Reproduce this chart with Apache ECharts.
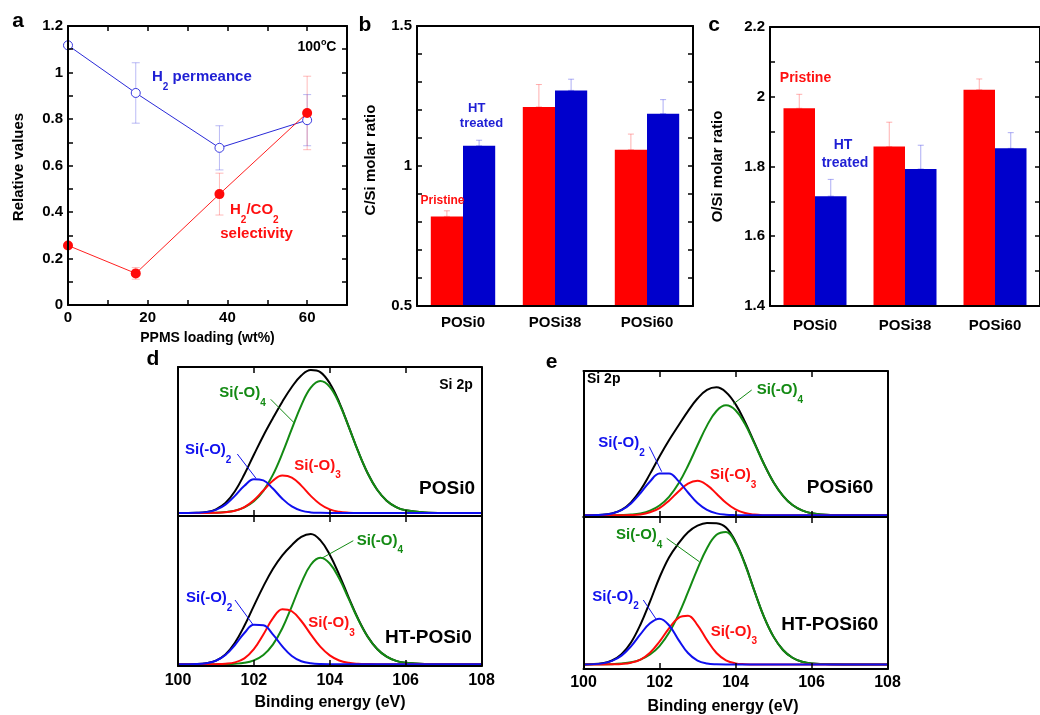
<!DOCTYPE html>
<html><head><meta charset="utf-8">
<script src="https://cdn.jsdelivr.net/npm/echarts@6/dist/echarts.min.js"></script>
<style>html,body{margin:0;padding:0;background:#fff}#c{width:1040px;height:715px}</style>
</head><body><div id="c"></div>
<script>
const FONT = '"Liberation Sans", Arial, Helvetica, sans-serif';
// ---------- panel a ----------
const LOADING = [0, 17, 38, 60];
const H2_PERM = [1.117, 0.912, 0.676, 0.795];
const H2_PERM_ERR = [0, 0.13, 0.095, 0.11];
const SELECTIVITY = [0.256, 0.136, 0.477, 0.826];
const SELECTIVITY_ERR = [0, 0.025, 0.09, 0.158];
const A_X_TICKS = [0, 20, 40, 60];
// ---------- panels b, c ----------
const SAMPLES = ['POSi0', 'POSi38', 'POSi60'];
const CSI_PRISTINE = [0.82, 1.211, 1.058];
const CSI_PRISTINE_ERR = [0.02, 0.08, 0.056];
const CSI_HT = [1.072, 1.27, 1.187];
const CSI_HT_ERR = [0.02, 0.04, 0.05];
const OSI_PRISTINE = [1.967, 1.857, 2.02];
const OSI_PRISTINE_ERR = [0.04, 0.07, 0.031];
const OSI_HT = [1.715, 1.793, 1.852];
const OSI_HT_ERR = [0.048, 0.068, 0.045];
// ---------- panels d, e (Si 2p spectra, arbitrary intensity) ----------
const ENERGY = [100, 100.5, 100.75, 101, 101.25, 101.5, 101.75, 102, 102.25, 102.5, 102.75, 103, 103.25, 103.5, 103.75, 104, 104.25, 104.5, 104.75, 105, 105.25, 105.5, 105.75, 106, 106.5, 107, 108];
const POSI0_ENV  = [2,2.2,2.7,4.5,8.7,16.6,28.0,41.1,53.9,65.6,76.7,86.6,94.3,98.0,96.6,89.1,76.3,60.0,43.3,28.7,17.6,10.3,6.0,3.8,2.3,2,2];
const POSI0_SIO4 = [2,2,2.1,2.2,2.7,3.6,5.8,9.9,16.9,27.6,42,58.4,74.3,86.1,90.6,86.7,75.5,59.8,43.2,28.7,17.6,10.3,6.0,3.8,2.3,2,2];
const POSI0_SIO3 = [2,2,2,2.1,2.5,3.5,6,10.6,17.1,23.6,27.1,25.8,20.4,13.5,7.9,4.4,2.8,2.2,2,2,2,2,2,2,2,2,2];
const POSI0_SIO2 = [2,2.2,2.6,4.1,7.6,13.5,20.3,24.6,23.9,18.4,11.6,6.4,3.6,2.4,2.1,2,2,2,2,2,2,2,2,2,2,2,2];
const HTPOSI0_ENV  = [1.2,1.35,1.9,3.6,7.7,15.5,26.8,40.1,53.1,64.7,73.8,80.6,86.1,88.0,83.9,74.2,60.8,45.6,31.3,19.6,11.3,6.2,3.4,2.1,1.3,1.2,1.2];
const HTPOSI0_SIO4 = [1.2,1.2,1.2,1.2,1.3,1.5,2.1,3.8,7.4,14.3,25.2,39.8,55.3,67.5,72.1,68.3,58.3,44.7,31.0,19.5,11.3,6.2,3.4,2.1,1.3,1.2,1.2];
const HTPOSI0_SIO3 = [1.2,1.2,1.2,1.25,1.5,2.4,5.1,11.2,21.0,31.7,37.9,36.5,30.0,21.1,12.9,7.1,3.7,2.1,1.5,1.3,1.2,1.2,1.2,1.2,1.2,1.2,1.2];
const HTPOSI0_SIO2 = [1.2,1.35,1.9,3.5,7.3,14.0,22.0,27.5,27.1,21.1,13.1,6.7,3.2,1.8,1.3,1.2,1.2,1.2,1.2,1.2,1.2,1.2,1.2,1.2,1.2,1.2,1.2];
const POSI60_ENV  = [1.1,1.5,2.4,4.7,9.7,17.8,28.5,40.0,50.7,60.5,70.0,78.3,84.0,85.7,82.5,74.6,62.9,49.0,35.0,23.0,14.0,7.9,4.4,2.5,1.3,1.1,1.1];
const POSI60_SIO4 = [1.1,1.1,1.2,1.3,1.6,2.4,4.2,7.6,13.3,22.1,33.9,47.4,60.4,70.1,73.8,70.6,61.4,48.5,34.9,23.0,14.0,7.9,4.4,2.5,1.3,1.1,1.1];
const POSI60_SIO3 = [1.1,1.1,1.1,1.1,1.3,1.7,3.1,5.9,10.8,16.9,22.1,23.9,21.1,15.4,9.4,5.0,2.6,1.6,1.2,1.1,1.1,1.1,1.1,1.1,1.1,1.1,1.1];
const POSI60_SIO2 = [1.1,1.45,2.3,4.5,9.0,15.8,23.5,28.7,28.8,23.7,16.2,9.2,4.7,2.4,1.5,1.2,1.1,1.1,1.1,1.1,1.1,1.1,1.1,1.1,1.1,1.1,1.1];
const HTPOSI60_ENV  = [3.0,3.8,5.6,9.7,17.4,29.3,44.3,60.2,73.4,82.6,90.0,94.3,96.1,95.9,93.1,83.8,69.3,51.2,34.3,21.3,12.5,7.4,4.8,3.7,3.1,3,3];
const HTPOSI60_SIO4 = [3,3.1,3.2,3.6,4.4,6.2,9.5,15.1,23.8,35.8,50.5,65.9,79.5,88.3,90.2,83.1,68.7,51.1,34.3,21.3,12.5,7.4,4.8,3.7,3.1,3,3];
const HTPOSI60_SIO3 = [3,3,3.1,3.3,4.1,6.2,10.7,18.0,26.8,33.6,35.0,28.9,19.0,10.5,5.7,3.7,3.2,3,3,3,3,3,3,3,3,3,3];
const HTPOSI60_SIO2 = [3.0,3.7,5.3,8.8,14.9,22.9,30.1,33.1,28.8,19.2,10.5,5.5,3.6,3.1,3,3,3,3,3,3,3,3,3,3,3,3,3];

const RED = '#ff0000', BLUE = '#0000cc', GREEN = '#138a13', SBLUE = '#1010ee';
const BAR_FRAC = 0.35;

const chart = echarts.init(document.getElementById('c'), null, {renderer: 'canvas'});

const lab = (size, extra) => Object.assign({fontSize: size, fontWeight: 'bold', fontFamily: FONT, color: '#000'}, extra || {});
const line2 = {show: true, onZero: false, lineStyle: {color: '#000', width: 2}};
function valAxis(g, pos, min, max, interval, o) {
  o = o || {};
  return {
    gridIndex: g, type: 'value', position: pos, min, max, interval, z: 10,
    axisLine: line2,
    axisTick: o.noTick ? {show: false} : {show: true, inside: true, length: o.tickLen || 5, lineStyle: {color: '#000', width: 1.5}},
    minorTick: o.minor ? {show: true, splitNumber: o.minor, length: o.tickLen || 5, lineStyle: {color: '#000', width: 1.5}} : {show: false},
    axisLabel: o.label ? lab(o.fs || 15, {margin: o.margin || 5, formatter: o.fmt}) : {show: false},
    splitLine: {show: false}
  };
}
function catAxis(g, pos, showLabel, margin) {
  return {
    gridIndex: g, type: 'category', position: pos, data: SAMPLES, z: 10,
    axisLine: line2, axisTick: {show: false},
    axisLabel: showLabel ? lab(15, {margin: margin}) : {show: false},
    splitLine: {show: false}
  };
}

const grids = [
  {left: 68, top: 26, width: 279, height: 279},
  {left: 417, top: 26, width: 276, height: 280},
  {left: 770, top: 27, width: 281, height: 279},
  {left: 178, top: 367, width: 303.5, height: 149},
  {left: 178, top: 516, width: 303.5, height: 150},
  {left: 583.5, top: 371, width: 304, height: 146},
  {left: 583.5, top: 517, width: 304, height: 152}
];

const xAxes = [
  valAxis(0, 'bottom', 0, 70, 10, {label: true, fmt: v => (A_X_TICKS.indexOf(v) >= 0 ? String(v) : '')}),
  valAxis(0, 'top', 0, 70, 10, {}),
  catAxis(1, 'bottom', true, 9), catAxis(1, 'top', false),
  catAxis(2, 'bottom', true, 12), catAxis(2, 'top', false),
  valAxis(3, 'bottom', 100, 108, 2, {tickLen: 6}), valAxis(3, 'top', 100, 108, 2, {tickLen: 6}),
  valAxis(4, 'bottom', 100, 108, 2, {tickLen: 6, label: true, fs: 16, margin: 7}), valAxis(4, 'top', 100, 108, 2, {tickLen: 6}),
  valAxis(5, 'bottom', 100, 108, 2, {tickLen: 6}), valAxis(5, 'top', 100, 108, 2, {tickLen: 6}),
  valAxis(6, 'bottom', 100, 108, 2, {tickLen: 6, label: true, fs: 16, margin: 6}), valAxis(6, 'top', 100, 108, 2, {tickLen: 6})
];
const yAxes = [
  valAxis(0, 'left', 0, 1.2, 0.2, {label: true, minor: 2}), valAxis(0, 'right', 0, 1.2, 0.2, {minor: 2}),
  valAxis(1, 'left', 0.5, 1.5, 0.5, {label: true, minor: 5}), valAxis(1, 'right', 0.5, 1.5, 0.5, {minor: 5}),
  valAxis(2, 'left', 1.4, 2.2, 0.2, {label: true, minor: 2}), valAxis(2, 'right', 1.4, 2.2, 0.2, {minor: 2}),
  valAxis(3, 'left', 0, 100, 50, {noTick: true}), valAxis(3, 'right', 0, 100, 50, {noTick: true}),
  valAxis(4, 'left', 0, 100, 50, {noTick: true}), valAxis(4, 'right', 0, 100, 50, {noTick: true}),
  valAxis(5, 'left', 0, 96.5, 50, {noTick: true}), valAxis(5, 'right', 0, 96.5, 50, {noTick: true}),
  valAxis(6, 'left', 0, 100, 50, {noTick: true}), valAxis(6, 'right', 0, 100, 50, {noTick: true})
];

// error bar renderer
function errRender(sign, color, capHalf) {
  return function (params, api) {
    const x = api.value(0), lo = api.value(1), hi = api.value(2);
    let dx = 0;
    if (sign !== 0) dx = sign * api.size([1, 0])[0] * BAR_FRAC / 2;
    const p1 = api.coord([x, lo]), p2 = api.coord([x, hi]);
    const st = {stroke: color, lineWidth: 1};
    return {type: 'group', children: [
      {type: 'line', shape: {x1: p1[0] + dx, y1: p1[1], x2: p2[0] + dx, y2: p2[1]}, style: st},
      {type: 'line', shape: {x1: p2[0] + dx - capHalf, y1: p2[1], x2: p2[0] + dx + capHalf, y2: p2[1]}, style: st},
      {type: 'line', shape: {x1: p1[0] + dx - capHalf, y1: p1[1], x2: p1[0] + dx + capHalf, y2: p1[1]}, style: st}
    ]};
  };
}
function symErr(xs, ys, es) {
  return xs.map((x, i) => [x, ys[i] - es[i], ys[i] + es[i]]).filter((d, i) => es[i] > 0);
}
function upErr(vals, errs) { return vals.map((v, i) => [i, v, v + errs[i]]); }

const series = [];
// panel a
series.push({type: 'custom', xAxisIndex: 0, yAxisIndex: 0, renderItem: errRender(0, 'rgba(60,60,225,0.35)', 4), data: symErr(LOADING, H2_PERM, H2_PERM_ERR), encode: {x: 0, y: [1, 2]}, z: 1});
series.push({type: 'custom', xAxisIndex: 0, yAxisIndex: 0, renderItem: errRender(0, 'rgba(255,60,60,0.35)', 4), data: symErr(LOADING, SELECTIVITY, SELECTIVITY_ERR), encode: {x: 0, y: [1, 2]}, z: 1});
series.push({type: 'line', xAxisIndex: 0, yAxisIndex: 0, data: LOADING.map((x, i) => [x, H2_PERM[i]]), symbol: 'circle', symbolSize: 9,
  lineStyle: {color: '#2a2ad8', width: 1}, itemStyle: {color: '#fff', borderColor: '#3a3ae0', borderWidth: 1}, z: 3});
series.push({type: 'line', xAxisIndex: 0, yAxisIndex: 0, data: LOADING.map((x, i) => [x, SELECTIVITY[i]]), symbol: 'circle', symbolSize: 10,
  lineStyle: {color: '#ff2020', width: 1}, itemStyle: {color: '#ff0a0a', borderColor: '#ff0a0a', borderWidth: 0}, z: 3});
// panel b
series.push({type: 'bar', xAxisIndex: 2, yAxisIndex: 2, data: CSI_PRISTINE, barWidth: (BAR_FRAC * 100) + '%', barGap: '0%', itemStyle: {color: RED}});
series.push({type: 'bar', xAxisIndex: 2, yAxisIndex: 2, data: CSI_HT, barWidth: (BAR_FRAC * 100) + '%', barGap: '0%', itemStyle: {color: BLUE}});
series.push({type: 'custom', xAxisIndex: 2, yAxisIndex: 2, renderItem: errRender(-1, 'rgba(255,80,80,0.45)', 3), data: upErr(CSI_PRISTINE, CSI_PRISTINE_ERR), encode: {x: 0, y: [1, 2]}, z: 1});
series.push({type: 'custom', xAxisIndex: 2, yAxisIndex: 2, renderItem: errRender(1, 'rgba(70,70,230,0.45)', 3), data: upErr(CSI_HT, CSI_HT_ERR), encode: {x: 0, y: [1, 2]}, z: 1});
// panel c
series.push({type: 'bar', xAxisIndex: 4, yAxisIndex: 4, data: OSI_PRISTINE, barWidth: (BAR_FRAC * 100) + '%', barGap: '0%', itemStyle: {color: RED}});
series.push({type: 'bar', xAxisIndex: 4, yAxisIndex: 4, data: OSI_HT, barWidth: (BAR_FRAC * 100) + '%', barGap: '0%', itemStyle: {color: BLUE}});
series.push({type: 'custom', xAxisIndex: 4, yAxisIndex: 4, renderItem: errRender(-1, 'rgba(255,80,80,0.45)', 3), data: upErr(OSI_PRISTINE, OSI_PRISTINE_ERR), encode: {x: 0, y: [1, 2]}, z: 1});
series.push({type: 'custom', xAxisIndex: 4, yAxisIndex: 4, renderItem: errRender(1, 'rgba(70,70,230,0.45)', 3), data: upErr(OSI_HT, OSI_HT_ERR), encode: {x: 0, y: [1, 2]}, z: 1});
// spectra
function spec(xi, yi, arr, color) {
  return {type: 'line', xAxisIndex: xi, yAxisIndex: yi, data: ENERGY.map((e, i) => [e, arr[i]]), showSymbol: false, smooth: 0.4,
    lineStyle: {color, width: 2}, z: 3};
}
[[6, 6, POSI0_ENV, POSI0_SIO4, POSI0_SIO3, POSI0_SIO2],
 [8, 8, HTPOSI0_ENV, HTPOSI0_SIO4, HTPOSI0_SIO3, HTPOSI0_SIO2],
 [10, 10, POSI60_ENV, POSI60_SIO4, POSI60_SIO3, POSI60_SIO2],
 [12, 12, HTPOSI60_ENV, HTPOSI60_SIO4, HTPOSI60_SIO3, HTPOSI60_SIO2]].forEach(p => {
  series.push(spec(p[0], p[1], p[2], '#000'));
  series.push(spec(p[0], p[1], p[3], GREEN));
  series.push(spec(p[0], p[1], p[4], '#ff0a0a'));
  series.push(spec(p[0], p[1], p[5], SBLUE));
});

// ---------- annotations ----------
const G = [];
function T(x, y, text, size, color, align, rot) {
  G.push({type: 'text', x, y, rotation: rot || 0, z: 100,
    style: {text, fill: color || '#000', fontSize: size, fontWeight: 'bold', fontFamily: FONT, align: align || 'center', verticalAlign: 'middle'}});
}
function R(x, y, parts, size, color, align) {
  const text = parts.map(p => '{' + (p[1] || 'n') + '|' + p[0] + '}').join('');
  const subSize = Math.round(size * 0.68);
  G.push({type: 'text', x, y, z: 100,
    style: {text, align: align || 'left', verticalAlign: 'middle',
      rich: {
        n: {fontSize: size, fontWeight: 'bold', fontFamily: FONT, fill: color, lineHeight: 30, verticalAlign: 'middle'},
        sub: {fontSize: subSize, fontWeight: 'bold', fontFamily: FONT, fill: color, lineHeight: subSize, verticalAlign: 'bottom'},
        sup: {fontSize: subSize, fontWeight: 'bold', fontFamily: FONT, fill: color, lineHeight: subSize, verticalAlign: 'top'}
      }}});
}
function SUP(x, y, parts, size, color) {
  const text = parts.map(p => '{' + (p[1] || 'n') + '|' + p[0] + '}').join('');
  G.push({type: 'text', x, y, z: 100,
    style: {text, align: 'center', verticalAlign: 'middle',
      rich: {
        n: {fontSize: size, fontWeight: 'bold', fontFamily: FONT, fill: color, lineHeight: 18, verticalAlign: 'middle'},
        sup: {fontSize: 9, fontWeight: 'bold', fontFamily: FONT, fill: color, lineHeight: 9, verticalAlign: 'top'}
      }}});
}
function L(x1, y1, x2, y2, color) {
  G.push({type: 'line', z: 100, shape: {x1, y1, x2, y2}, style: {stroke: color, lineWidth: 1}});
}
// panel letters
T(18, 21, 'a', 21); T(365, 25, 'b', 21); T(714, 25, 'c', 21); T(153, 359.5, 'd', 21); T(551.5, 362.5, 'e', 21);
// axis names
T(207.5, 338, 'PPMS loading (wt%)', 14);
T(19, 167, 'Relative values', 15, '#000', 'center', Math.PI / 2);
T(371, 160, 'C/Si molar ratio', 15, '#000', 'center', Math.PI / 2);
T(718, 166.5, 'O/Si molar ratio', 15, '#000', 'center', Math.PI / 2);
T(330, 703, 'Binding energy (eV)', 16);
T(723, 707, 'Binding energy (eV)', 16);
// panel a texts
SUP(317, 47, [['100'], ['o', 'sup'], ['C']], 14, '#000');
R(152, 77, [['H'], ['2', 'sub'], [' permeance']], 15, '#1f1fd4');
R(230, 210, [['H'], ['2', 'sub'], ['/CO'], ['2', 'sub']], 15, '#ff1010');
T(256.5, 234, 'selectivity', 15, '#ff1010');
// panel b texts
T(442.5, 201, 'Pristine', 12, '#ff1010');
T(476.7, 108, 'HT', 13, '#1f1fd4');
T(481.5, 123.5, 'treated', 13, '#1f1fd4');
// panel c texts
T(805.5, 78, 'Pristine', 14, '#ff1010');
T(843, 145, 'HT', 14, '#1f1fd4');
T(845, 163, 'treated', 14, '#1f1fd4');
// panel d top
T(456, 385, 'Si 2p', 14);
R(219.3, 393.3, [['Si(-O)'], ['4', 'sub']], 15, GREEN); L(270.7, 399.3, 294, 422.7, GREEN);
R(185, 450, [['Si(-O)'], ['2', 'sub']], 15, SBLUE); L(237.3, 454, 256, 478.3, SBLUE);
R(294.3, 465.7, [['Si(-O)'], ['3', 'sub']], 15, '#ff1010');
T(475, 489, 'POSi0', 19, '#000', 'right');
// panel d bottom
R(356.7, 540.7, [['Si(-O)'], ['4', 'sub']], 15, GREEN); L(353.3, 540.7, 321.7, 558.3, GREEN);
R(186, 598.3, [['Si(-O)'], ['2', 'sub']], 15, SBLUE); L(235, 600, 253.3, 625, SBLUE);
R(308.3, 623.3, [['Si(-O)'], ['3', 'sub']], 15, '#ff1010');
T(471.7, 637.3, 'HT-POSi0', 19, '#000', 'right');
// panel e top
T(587, 379, 'Si 2p', 14, '#000', 'left');
R(756.7, 390, [['Si(-O)'], ['4', 'sub']], 15, GREEN); L(751.7, 390, 733.3, 404, GREEN);
R(598.3, 443.3, [['Si(-O)'], ['2', 'sub']], 15, SBLUE); L(649.3, 446.7, 661.7, 471.7, SBLUE);
R(710, 475, [['Si(-O)'], ['3', 'sub']], 15, '#ff1010');
T(873.3, 487.5, 'POSi60', 19, '#000', 'right');
// panel e bottom
R(616, 535, [['Si(-O)'], ['4', 'sub']], 15, GREEN); L(666.7, 538.3, 699.3, 561.7, GREEN);
R(592.3, 596.7, [['Si(-O)'], ['2', 'sub']], 15, SBLUE); L(643.3, 600, 656.7, 620, SBLUE);
R(710.7, 631.7, [['Si(-O)'], ['3', 'sub']], 15, '#ff1010');
T(878.3, 625, 'HT-POSi60', 19, '#000', 'right');

chart.setOption({
  animation: false,
  backgroundColor: '#fff',
  grid: grids.map(g => Object.assign({containLabel: false}, g)),
  xAxis: xAxes,
  yAxis: yAxes,
  series,
  graphic: {elements: G}
});
</script></body></html>
